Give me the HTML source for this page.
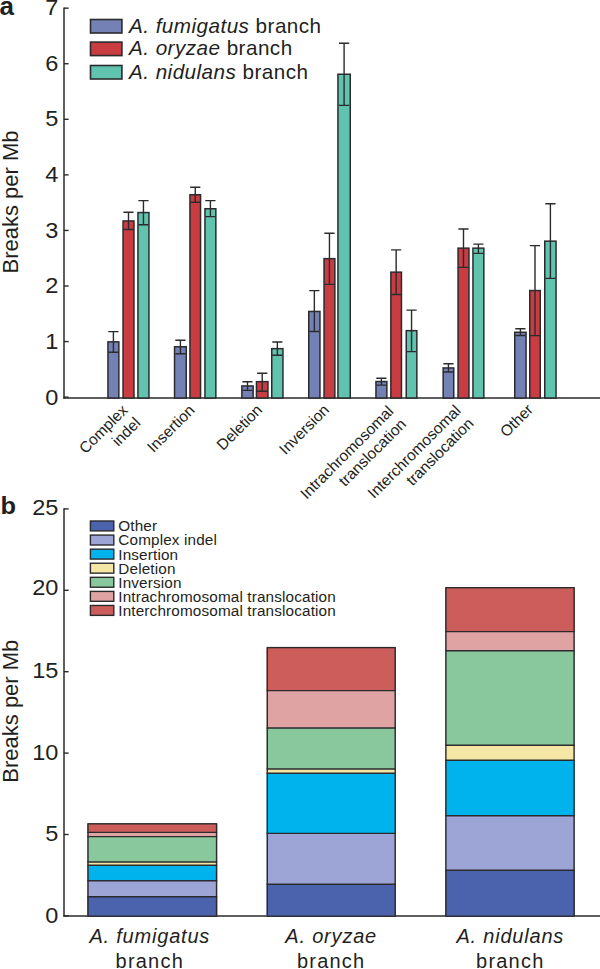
<!DOCTYPE html><html><head><meta charset="utf-8"><style>html,body{margin:0;padding:0;background:#fff;}svg{display:block}text{font-family:"Liberation Sans", sans-serif;fill:#231f20}</style></head><body>
<svg width="600" height="969" viewBox="0 0 600 969">
<text x="-0.5" y="15.2" style="font-weight:bold;font-size:26px">a</text>
<line x1="64.0" y1="7.459999999999968" x2="64.0" y2="398.7" stroke="#2a2a2a" stroke-width="1.5"/>
<line x1="63.25" y1="398.0" x2="600" y2="398.0" stroke="#2a2a2a" stroke-width="1.5"/>
<line x1="64.0" y1="397.15" x2="68.6" y2="397.15" stroke="#2a2a2a" stroke-width="1.4"/>
<text transform="translate(58.3,405.15) scale(1.07,1)" text-anchor="end" style="font-size:22px">0</text>
<line x1="64.0" y1="341.58" x2="68.6" y2="341.58" stroke="#2a2a2a" stroke-width="1.4"/>
<text transform="translate(58.3,348.63) scale(1.07,1)" text-anchor="end" style="font-size:22px">1</text>
<line x1="64.0" y1="286.01" x2="68.6" y2="286.01" stroke="#2a2a2a" stroke-width="1.4"/>
<text transform="translate(58.3,293.41) scale(1.07,1)" text-anchor="end" style="font-size:22px">2</text>
<line x1="64.0" y1="230.44" x2="68.6" y2="230.44" stroke="#2a2a2a" stroke-width="1.4"/>
<text transform="translate(58.3,237.59) scale(1.07,1)" text-anchor="end" style="font-size:22px">3</text>
<line x1="64.0" y1="174.87" x2="68.6" y2="174.87" stroke="#2a2a2a" stroke-width="1.4"/>
<text transform="translate(58.3,181.72) scale(1.07,1)" text-anchor="end" style="font-size:22px">4</text>
<line x1="64.0" y1="119.30" x2="68.6" y2="119.30" stroke="#2a2a2a" stroke-width="1.4"/>
<text transform="translate(58.3,125.50) scale(1.07,1)" text-anchor="end" style="font-size:22px">5</text>
<line x1="64.0" y1="63.73" x2="68.6" y2="63.73" stroke="#2a2a2a" stroke-width="1.4"/>
<text transform="translate(58.3,70.78) scale(1.07,1)" text-anchor="end" style="font-size:22px">6</text>
<line x1="64.0" y1="8.16" x2="68.6" y2="8.16" stroke="#2a2a2a" stroke-width="1.4"/>
<text transform="translate(58.3,15.06) scale(1.07,1)" text-anchor="end" style="font-size:22px">7</text>
<text transform="translate(17.8,273.5) rotate(-90)" style="font-size:22px">Breaks per Mb</text>
<rect x="90.5" y="19.50" width="31.4" height="13.5" fill="#7481b4" stroke="#2b2b2e" stroke-width="1.6"/>
<text x="129" y="32.80" style="font-size:20.7px;letter-spacing:0.45px"><tspan style="font-style:italic">A. fumigatus</tspan> branch</text>
<rect x="90.5" y="42.10" width="31.4" height="13.5" fill="#c93d42" stroke="#2b2b2e" stroke-width="1.6"/>
<text x="129" y="55.40" style="font-size:20.7px;letter-spacing:0.45px"><tspan style="font-style:italic">A. oryzae</tspan> branch</text>
<rect x="90.5" y="65.50" width="31.4" height="13.5" fill="#60c3ae" stroke="#2b2b2e" stroke-width="1.6"/>
<text x="129" y="78.80" style="font-size:20.7px;letter-spacing:0.45px"><tspan style="font-style:italic">A. nidulans</tspan> branch</text>
<rect x="107.95" y="341.85" width="10.90" height="56.15" fill="#7481b4" stroke="#2b2b2e" stroke-width="1.5"/>
<path d="M113.40 331.60V352.30M108.30 331.60H118.50M108.30 352.30H118.50" stroke="#2b2b2e" stroke-width="1.4" fill="none"/>
<rect x="123.05" y="220.95" width="10.90" height="177.05" fill="#c93d42" stroke="#2b2b2e" stroke-width="1.5"/>
<path d="M128.50 212.30V229.50M123.40 212.30H133.60M123.40 229.50H133.60" stroke="#2b2b2e" stroke-width="1.4" fill="none"/>
<rect x="137.95" y="212.55" width="11.00" height="185.45" fill="#60c3ae" stroke="#2b2b2e" stroke-width="1.5"/>
<path d="M143.45 200.60V224.80M138.35 200.60H148.55M138.35 224.80H148.55" stroke="#2b2b2e" stroke-width="1.4" fill="none"/>
<rect x="174.55" y="346.75" width="11.70" height="51.25" fill="#7481b4" stroke="#2b2b2e" stroke-width="1.5"/>
<path d="M180.40 340.30V353.80M175.30 340.30H185.50M175.30 353.80H185.50" stroke="#2b2b2e" stroke-width="1.4" fill="none"/>
<rect x="189.95" y="194.75" width="10.60" height="203.25" fill="#c93d42" stroke="#2b2b2e" stroke-width="1.5"/>
<path d="M195.25 187.30V202.20M190.15 187.30H200.35M190.15 202.20H200.35" stroke="#2b2b2e" stroke-width="1.4" fill="none"/>
<rect x="204.95" y="208.75" width="10.90" height="189.25" fill="#60c3ae" stroke="#2b2b2e" stroke-width="1.5"/>
<path d="M210.40 200.60V216.60M205.30 200.60H215.50M205.30 216.60H215.50" stroke="#2b2b2e" stroke-width="1.4" fill="none"/>
<rect x="241.85" y="385.95" width="11.30" height="12.05" fill="#7481b4" stroke="#2b2b2e" stroke-width="1.5"/>
<path d="M247.50 381.70V390.40M242.40 381.70H252.60M242.40 390.40H252.60" stroke="#2b2b2e" stroke-width="1.4" fill="none"/>
<rect x="256.45" y="381.65" width="11.50" height="16.35" fill="#c93d42" stroke="#2b2b2e" stroke-width="1.5"/>
<path d="M262.20 373.30V391.30M257.10 373.30H267.30M257.10 391.30H267.30" stroke="#2b2b2e" stroke-width="1.4" fill="none"/>
<rect x="271.75" y="348.65" width="11.20" height="49.35" fill="#60c3ae" stroke="#2b2b2e" stroke-width="1.5"/>
<path d="M277.35 342.05V355.20M272.25 342.05H282.45M272.25 355.20H282.45" stroke="#2b2b2e" stroke-width="1.4" fill="none"/>
<rect x="308.75" y="311.45" width="11.20" height="86.55" fill="#7481b4" stroke="#2b2b2e" stroke-width="1.5"/>
<path d="M314.35 290.60V331.50M309.25 290.60H319.45M309.25 331.50H319.45" stroke="#2b2b2e" stroke-width="1.4" fill="none"/>
<rect x="324.05" y="258.65" width="10.80" height="139.35" fill="#c93d42" stroke="#2b2b2e" stroke-width="1.5"/>
<path d="M329.45 233.30V284.40M324.35 233.30H334.55M324.35 284.40H334.55" stroke="#2b2b2e" stroke-width="1.4" fill="none"/>
<rect x="337.95" y="74.25" width="12.30" height="323.75" fill="#60c3ae" stroke="#2b2b2e" stroke-width="1.5"/>
<path d="M344.10 43.20V105.40M339.00 43.20H349.20M339.00 105.40H349.20" stroke="#2b2b2e" stroke-width="1.4" fill="none"/>
<rect x="375.95" y="381.55" width="10.90" height="16.45" fill="#7481b4" stroke="#2b2b2e" stroke-width="1.5"/>
<path d="M381.40 378.30V385.10M376.30 378.30H386.50M376.30 385.10H386.50" stroke="#2b2b2e" stroke-width="1.4" fill="none"/>
<rect x="390.85" y="272.15" width="10.60" height="125.85" fill="#c93d42" stroke="#2b2b2e" stroke-width="1.5"/>
<path d="M396.15 249.90V294.50M391.05 249.90H401.25M391.05 294.50H401.25" stroke="#2b2b2e" stroke-width="1.4" fill="none"/>
<rect x="406.25" y="330.65" width="10.60" height="67.35" fill="#60c3ae" stroke="#2b2b2e" stroke-width="1.5"/>
<path d="M411.55 310.10V351.60M406.45 310.10H416.65M406.45 351.60H416.65" stroke="#2b2b2e" stroke-width="1.4" fill="none"/>
<rect x="443.15" y="367.95" width="10.60" height="30.05" fill="#7481b4" stroke="#2b2b2e" stroke-width="1.5"/>
<path d="M448.45 363.70V372.00M443.35 363.70H453.55M443.35 372.00H453.55" stroke="#2b2b2e" stroke-width="1.4" fill="none"/>
<rect x="458.05" y="248.15" width="10.90" height="149.85" fill="#c93d42" stroke="#2b2b2e" stroke-width="1.5"/>
<path d="M463.50 229.00V267.40M458.40 229.00H468.60M458.40 267.40H468.60" stroke="#2b2b2e" stroke-width="1.4" fill="none"/>
<rect x="472.95" y="248.15" width="10.90" height="149.85" fill="#60c3ae" stroke="#2b2b2e" stroke-width="1.5"/>
<path d="M478.40 244.10V253.40M473.30 244.10H483.50M473.30 253.40H483.50" stroke="#2b2b2e" stroke-width="1.4" fill="none"/>
<rect x="514.75" y="332.25" width="11.30" height="65.75" fill="#7481b4" stroke="#2b2b2e" stroke-width="1.5"/>
<path d="M520.40 328.80V335.50M515.30 328.80H525.50M515.30 335.50H525.50" stroke="#2b2b2e" stroke-width="1.4" fill="none"/>
<rect x="529.75" y="290.55" width="10.50" height="107.45" fill="#c93d42" stroke="#2b2b2e" stroke-width="1.5"/>
<path d="M535.00 245.60V335.60M529.90 245.60H540.10M529.90 335.60H540.10" stroke="#2b2b2e" stroke-width="1.4" fill="none"/>
<rect x="544.75" y="241.15" width="11.30" height="156.85" fill="#60c3ae" stroke="#2b2b2e" stroke-width="1.5"/>
<path d="M550.40 203.70V278.40M545.30 203.70H555.50M545.30 278.40H555.50" stroke="#2b2b2e" stroke-width="1.4" fill="none"/>
<text transform="translate(128.70,411.20) rotate(-45)" text-anchor="end" style="font-size:15.5px">Complex</text>
<text transform="translate(141.43,423.93) rotate(-45)" text-anchor="end" style="font-size:15.5px">indel</text>
<text transform="translate(195.60,411.20) rotate(-45)" text-anchor="end" style="font-size:15.5px">Insertion</text>
<text transform="translate(263.20,411.00) rotate(-45)" text-anchor="end" style="font-size:15.5px">Deletion</text>
<text transform="translate(330.10,410.90) rotate(-45)" text-anchor="end" style="font-size:15.5px">Inversion</text>
<text transform="translate(394.40,412.30) rotate(-45)" text-anchor="end" style="font-size:15.5px">Intrachromosomal</text>
<text transform="translate(407.13,425.03) rotate(-45)" text-anchor="end" style="font-size:15.5px">translocation</text>
<text transform="translate(461.80,411.60) rotate(-45)" text-anchor="end" style="font-size:15.5px">Interchromosomal</text>
<text transform="translate(474.53,424.33) rotate(-45)" text-anchor="end" style="font-size:15.5px">translocation</text>
<text transform="translate(534.00,410.60) rotate(-45)" text-anchor="end" style="font-size:15.5px">Other</text>
<text transform="translate(0.6,514.4) scale(1.06,1)" style="font-weight:bold;font-size:24px">b</text>
<line x1="64.0" y1="508.20" x2="64.0" y2="916.6" stroke="#2a2a2a" stroke-width="1.5"/>
<line x1="63.25" y1="915.9" x2="600" y2="915.9" stroke="#2a2a2a" stroke-width="1.5"/>
<line x1="64.0" y1="915.90" x2="68.6" y2="915.90" stroke="#2a2a2a" stroke-width="1.4"/>
<text transform="translate(58.3,922.55) scale(1.07,1)" text-anchor="end" style="font-size:22px">0</text>
<line x1="64.0" y1="834.50" x2="68.6" y2="834.50" stroke="#2a2a2a" stroke-width="1.4"/>
<text transform="translate(58.3,840.85) scale(1.07,1)" text-anchor="end" style="font-size:22px">5</text>
<line x1="64.0" y1="753.10" x2="68.6" y2="753.10" stroke="#2a2a2a" stroke-width="1.4"/>
<text transform="translate(58.3,759.70) scale(1.07,1)" text-anchor="end" style="font-size:22px">10</text>
<line x1="64.0" y1="671.70" x2="68.6" y2="671.70" stroke="#2a2a2a" stroke-width="1.4"/>
<text transform="translate(58.3,677.70) scale(1.07,1)" text-anchor="end" style="font-size:22px">15</text>
<line x1="64.0" y1="590.30" x2="68.6" y2="590.30" stroke="#2a2a2a" stroke-width="1.4"/>
<text transform="translate(58.3,595.45) scale(1.07,1)" text-anchor="end" style="font-size:22px">20</text>
<line x1="64.0" y1="508.90" x2="68.6" y2="508.90" stroke="#2a2a2a" stroke-width="1.4"/>
<text transform="translate(58.3,514.70) scale(1.07,1)" text-anchor="end" style="font-size:22px">25</text>
<text transform="translate(17.8,782.7) rotate(-90)" style="font-size:22px">Breaks per Mb</text>
<rect x="90.40" y="521.00" width="23.40" height="9.90" fill="#4b62ac" stroke="#2b2b2e" stroke-width="1.4"/>
<text x="118.3" y="531.30" style="font-size:15.3px;letter-spacing:0.14px">Other</text>
<rect x="90.40" y="535.08" width="23.40" height="9.90" fill="#9ca5d5" stroke="#2b2b2e" stroke-width="1.4"/>
<text x="118.3" y="545.46" style="font-size:15.3px;letter-spacing:0.14px">Complex indel</text>
<rect x="90.40" y="549.16" width="23.40" height="9.90" fill="#00b3ec" stroke="#2b2b2e" stroke-width="1.4"/>
<text x="118.3" y="559.62" style="font-size:15.3px;letter-spacing:0.14px">Insertion</text>
<rect x="90.40" y="563.24" width="23.40" height="9.90" fill="#f4e6a4" stroke="#2b2b2e" stroke-width="1.4"/>
<text x="118.3" y="573.78" style="font-size:15.3px;letter-spacing:0.14px">Deletion</text>
<rect x="90.40" y="577.32" width="23.40" height="9.90" fill="#89c89d" stroke="#2b2b2e" stroke-width="1.4"/>
<text x="118.3" y="587.94" style="font-size:15.3px;letter-spacing:0.14px">Inversion</text>
<rect x="90.40" y="591.40" width="23.40" height="9.90" fill="#dfa3a4" stroke="#2b2b2e" stroke-width="1.4"/>
<text x="118.3" y="602.10" style="font-size:15.3px;letter-spacing:0.14px">Intrachromosomal translocation</text>
<rect x="90.40" y="605.48" width="23.40" height="9.90" fill="#cc5d5a" stroke="#2b2b2e" stroke-width="1.4"/>
<text x="118.3" y="616.26" style="font-size:15.3px;letter-spacing:0.14px">Interchromosomal translocation</text>
<rect x="87.30" y="896.80" width="129.95" height="19.40" fill="#4b62ac"/>
<rect x="87.30" y="880.80" width="129.95" height="16.00" fill="#9ca5d5"/>
<rect x="87.30" y="865.30" width="129.95" height="15.50" fill="#00b3ec"/>
<rect x="87.30" y="862.00" width="129.95" height="3.30" fill="#f4e6a4"/>
<rect x="87.30" y="836.60" width="129.95" height="25.40" fill="#89c89d"/>
<rect x="87.30" y="832.40" width="129.95" height="4.20" fill="#dfa3a4"/>
<rect x="87.30" y="823.80" width="129.95" height="8.60" fill="#cc5d5a"/>
<line x1="87.30" y1="896.80" x2="217.25" y2="896.80" stroke="#2b2b2e" stroke-width="1.4"/>
<line x1="87.30" y1="880.80" x2="217.25" y2="880.80" stroke="#2b2b2e" stroke-width="1.4"/>
<line x1="87.30" y1="865.30" x2="217.25" y2="865.30" stroke="#2b2b2e" stroke-width="1.4"/>
<line x1="87.30" y1="862.00" x2="217.25" y2="862.00" stroke="#2b2b2e" stroke-width="1.4"/>
<line x1="87.30" y1="836.60" x2="217.25" y2="836.60" stroke="#2b2b2e" stroke-width="1.4"/>
<line x1="87.30" y1="832.40" x2="217.25" y2="832.40" stroke="#2b2b2e" stroke-width="1.4"/>
<rect x="88.00" y="823.80" width="128.55" height="92.40" fill="none" stroke="#2b2b2e" stroke-width="1.4"/>
<rect x="266.60" y="884.30" width="129.30" height="31.90" fill="#4b62ac"/>
<rect x="266.60" y="833.40" width="129.30" height="50.90" fill="#9ca5d5"/>
<rect x="266.60" y="773.20" width="129.30" height="60.20" fill="#00b3ec"/>
<rect x="266.60" y="769.00" width="129.30" height="4.20" fill="#f4e6a4"/>
<rect x="266.60" y="728.00" width="129.30" height="41.00" fill="#89c89d"/>
<rect x="266.60" y="690.60" width="129.30" height="37.40" fill="#dfa3a4"/>
<rect x="266.60" y="647.60" width="129.30" height="43.00" fill="#cc5d5a"/>
<line x1="266.60" y1="884.30" x2="395.90" y2="884.30" stroke="#2b2b2e" stroke-width="1.4"/>
<line x1="266.60" y1="833.40" x2="395.90" y2="833.40" stroke="#2b2b2e" stroke-width="1.4"/>
<line x1="266.60" y1="773.20" x2="395.90" y2="773.20" stroke="#2b2b2e" stroke-width="1.4"/>
<line x1="266.60" y1="769.00" x2="395.90" y2="769.00" stroke="#2b2b2e" stroke-width="1.4"/>
<line x1="266.60" y1="728.00" x2="395.90" y2="728.00" stroke="#2b2b2e" stroke-width="1.4"/>
<line x1="266.60" y1="690.60" x2="395.90" y2="690.60" stroke="#2b2b2e" stroke-width="1.4"/>
<rect x="267.30" y="647.60" width="127.90" height="268.60" fill="none" stroke="#2b2b2e" stroke-width="1.4"/>
<rect x="445.20" y="870.30" width="129.60" height="45.90" fill="#4b62ac"/>
<rect x="445.20" y="815.80" width="129.60" height="54.50" fill="#9ca5d5"/>
<rect x="445.20" y="760.20" width="129.60" height="55.60" fill="#00b3ec"/>
<rect x="445.20" y="745.30" width="129.60" height="14.90" fill="#f4e6a4"/>
<rect x="445.20" y="650.70" width="129.60" height="94.60" fill="#89c89d"/>
<rect x="445.20" y="631.60" width="129.60" height="19.10" fill="#dfa3a4"/>
<rect x="445.20" y="587.70" width="129.60" height="43.90" fill="#cc5d5a"/>
<line x1="445.20" y1="870.30" x2="574.80" y2="870.30" stroke="#2b2b2e" stroke-width="1.4"/>
<line x1="445.20" y1="815.80" x2="574.80" y2="815.80" stroke="#2b2b2e" stroke-width="1.4"/>
<line x1="445.20" y1="760.20" x2="574.80" y2="760.20" stroke="#2b2b2e" stroke-width="1.4"/>
<line x1="445.20" y1="745.30" x2="574.80" y2="745.30" stroke="#2b2b2e" stroke-width="1.4"/>
<line x1="445.20" y1="650.70" x2="574.80" y2="650.70" stroke="#2b2b2e" stroke-width="1.4"/>
<line x1="445.20" y1="631.60" x2="574.80" y2="631.60" stroke="#2b2b2e" stroke-width="1.4"/>
<rect x="445.90" y="587.70" width="128.20" height="328.50" fill="none" stroke="#2b2b2e" stroke-width="1.4"/>
<text x="149.8" y="942.8" text-anchor="middle" style="font-size:20px;font-style:italic;letter-spacing:0.8px">A. fumigatus</text>
<text x="149.8" y="967.7" text-anchor="middle" style="font-size:20px;letter-spacing:1.2px">branch</text>
<text x="331.2" y="942.8" text-anchor="middle" style="font-size:20px;font-style:italic;letter-spacing:0.8px">A. oryzae</text>
<text x="331.2" y="967.7" text-anchor="middle" style="font-size:20px;letter-spacing:1.2px">branch</text>
<text x="510.3" y="942.8" text-anchor="middle" style="font-size:20px;font-style:italic;letter-spacing:0.8px">A. nidulans</text>
<text x="510.3" y="967.7" text-anchor="middle" style="font-size:20px;letter-spacing:1.2px">branch</text>
</svg></body></html>
